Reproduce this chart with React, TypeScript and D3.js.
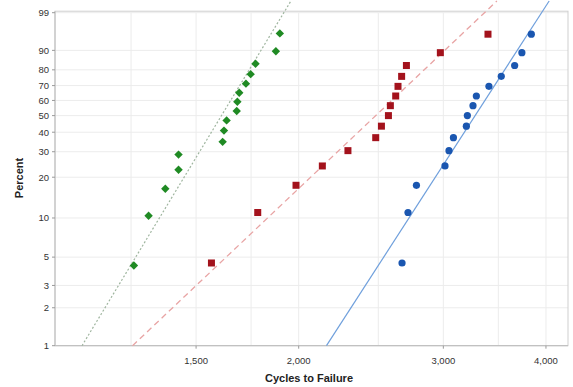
import React from "react";
import * as d3 from "d3";

// cycles to failure per group
const greenCycles = [1260, 1313, 1376, 1428, 1428, 1616, 1622, 1634, 1681, 1684, 1693, 1725, 1748, 1772, 1876, 1897];
const greenPercent = [4.3, 10.4, 16.5, 22.6, 28.7, 34.8, 40.9, 47.0, 53.0, 59.1, 65.2, 71.3, 77.4, 83.5, 89.6, 95.7];

const redCycles = [1566, 1783, 1985, 2137, 2296, 2482, 2522, 2572, 2586, 2625, 2642, 2669, 2705, 2975, 3400];
const bluecycles = [2672, 2717, 2782, 3014, 3048, 3086, 3200, 3209, 3260, 3291, 3409, 3529, 3664, 3739, 3839];
const percent15 = [4.5, 11.0, 17.5, 24.0, 30.5, 37.0, 43.5, 50.0, 56.5, 63.0, 69.5, 76.0, 82.5, 89.0, 95.5];

// fitted weibull lines: [shape, scale]
const greenFit = [10.83, 1666];
const redFit = [6.21, 2633];
const blueFit = [10.16, 3400];

const yTicks = [1, 2, 3, 5, 10, 20, 30, 40, 50, 60, 70, 80, 90, 99];
const xTicks = [1500, 2000, 3000, 4000];
const xGrid = [1250, 1500, 1750, 2000, 2500, 3000, 3500, 4000];

const W = 573;
const H = 387;
const left = 55;
const right = 568;
const top = 12.7;
const bottom = 345.7;

const wb = (p: number) => Math.log(-Math.log(1 - p / 100));

const x = d3.scaleLog().domain([1010, 4255]).range([left, right]);
const y = d3.scaleLinear().domain([wb(1), wb(99)]).range([bottom, top]);

const font = "'Liberation Sans', Arial, sans-serif";

function fitLine(fit: number[]) {
  const [beta, eta] = fit;
  const v0 = wb(1);
  const v1 = y.invert(1);
  const pts = [v0, v1].map((v) => [x(eta * Math.exp(v / beta)), y(v)] as [number, number]);
  return d3.line()(pts) || "";
}

function diamond(cx: number, cy: number, r: number) {
  return `M${cx},${cy - r}L${cx + r},${cy}L${cx},${cy + r}L${cx - r},${cy}Z`;
}

export default function App() {
  return (
    <>
      <style>{`body{margin:0}`}</style>
      <svg width={W} height={H} style={{ display: "block", background: "#fff" }} fontFamily={font}>
        {/* grid */}
        {yTicks.map((t) => (
          <line key={"gy" + t} x1={left} x2={right} y1={y(wb(t))} y2={y(wb(t))} stroke="#ececec" />
        ))}
        {xGrid.map((t) => (
          <line key={"gx" + t} x1={x(t)} x2={x(t)} y1={top} y2={bottom} stroke="#ececec" />
        ))}
        {/* frame */}
        <rect x={left} y={top - 1.5} width={right - left} height={bottom - top + 1.5} fill="none" stroke="#cfcfcf" />
        <line x1={left} x2={left} y1={top - 1.5} y2={bottom} stroke="#bdbdbd" />
        <line x1={left} x2={right} y1={bottom} y2={bottom} stroke="#bdbdbd" />

        {/* y axis */}
        {yTicks.map((t) => (
          <g key={"ty" + t}>
            <line x1={left - 3} x2={left} y1={y(wb(t))} y2={y(wb(t))} stroke="#9a9a9a" />
            <text x={left - 6} y={y(wb(t))} dy="0.35em" textAnchor="end" fontSize={9.5} fill="#333">
              {t}
            </text>
          </g>
        ))}
        {/* x axis */}
        {xTicks.map((t) => (
          <g key={"tx" + t}>
            <line x1={x(t)} x2={x(t)} y1={bottom} y2={bottom + 3} stroke="#9a9a9a" />
            <text x={x(t)} y={bottom + 18} textAnchor="middle" fontSize={9.5} fill="#333">
              {d3.format(",")(t)}
            </text>
          </g>
        ))}
        <text x={309} y={382} textAnchor="middle" fontSize={11} fontWeight="bold" fill="#222">
          Cycles to Failure
        </text>
        <text transform="translate(23,178) rotate(-90)" textAnchor="middle" fontSize={11} fontWeight="bold" fill="#222">
          Percent
        </text>

        {/* fit lines */}
        <path d={fitLine(greenFit)} stroke="#9fb59f" strokeWidth={1.2} strokeDasharray="2,2" fill="none" />
        <path d={fitLine(redFit)} stroke="#e8a4a4" strokeWidth={1.3} strokeDasharray="6,4" fill="none" />
        <path d={fitLine(blueFit)} stroke="#6f9fdc" strokeWidth={1.2} fill="none" />

        {/* points */}
        {greenCycles.map((c, i) => (
          <path key={"g" + i} d={diamond(x(c), y(wb(greenPercent[i])), 4.2)} fill="#1f8a23" />
        ))}
        {redCycles.map((c, i) => (
          <rect key={"r" + i} x={x(c) - 3.5} y={y(wb(percent15[i])) - 3.5} width={7} height={7} fill="#a3121c" />
        ))}
        {bluecycles.map((c, i) => (
          <circle key={"b" + i} cx={x(c)} cy={y(wb(percent15[i]))} r={3.6} fill="#1a56b0" />
        ))}
      </svg>
    </>
  );
}
